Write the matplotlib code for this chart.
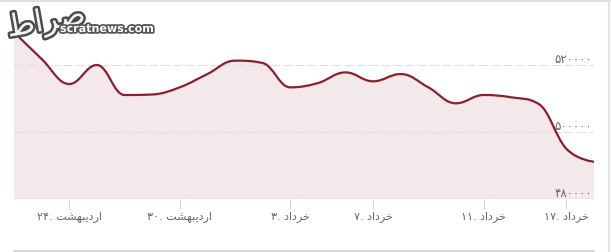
import matplotlib
matplotlib.use("Agg")
import matplotlib.pyplot as plt
from matplotlib.path import Path
from matplotlib.patches import PathPatch
import matplotlib.patheffects as pe
from matplotlib.lines import Line2D

# data: one point per trading day
values = [529850, 521800, 514330, 520000, 511045, 511200, 513340, 517300,
          521300, 520600, 513340, 514600, 517800, 515130, 517300, 513340,
          508570, 511045, 510360, 508360, 495000, 491130]
tick_idx = [2, 6, 10, 13, 17, 20]
tick_days = [24, 30, 3, 7, 11, 17]
tick_month = ['ord', 'ord', 'kh', 'kh', 'kh', 'kh']
y_ticks = [480000, 500000, 520000]

fa = str.maketrans('0123456789', '\u06f0\u06f1\u06f2\u06f3\u06f4\u06f5\u06f6\u06f7\u06f8\u06f9')
# month names, already shaped and in visual (left to right) order
months = {
    'ord': '\ufe96\ufeb8\ufeec\ufe92\ufef3\ufea9\ufead\ufe8d',  # اردیبهشت
    'kh': '\ufea9\ufe8d\ufea9\ufeae\ufea7',                      # خرداد
}
labels = [str(d).translate(fa) + '. ' + months[m] for d, m in zip(tick_days, tick_month)]

W, H = 611, 252
fig = plt.figure(figsize=(W / 100, H / 100), dpi=100)
ax = fig.add_axes([14 / W, (H - 199) / H, 580 / W, 189 / H])
ax.set_xlim(0, len(values) - 1)
ax.set_ylim(480000, 536420)
for s in ax.spines.values():
    s.set_visible(False)


# highcharts-like spline control points
def spline_path(ys):
    n = len(ys)
    sm, den = 1.5, 2.5
    lc = [None] * n
    rc = [None] * n
    for i in range(1, n - 1):
        x, y = i, ys[i]
        lx, ly = (sm * x + i - 1) / den, (sm * y + ys[i - 1]) / den
        rx, ry = (sm * x + i + 1) / den, (sm * y + ys[i + 1]) / den
        corr = (ry - ly) * (rx - x) / (rx - lx) + y - ry
        ly += corr
        ry += corr
        if ly > max(ys[i - 1], y):
            ly = max(ys[i - 1], y); ry = 2 * y - ly
        elif ly < min(ys[i - 1], y):
            ly = min(ys[i - 1], y); ry = 2 * y - ly
        if ry > max(ys[i + 1], y):
            ry = max(ys[i + 1], y); ly = 2 * y - ry
        elif ry < min(ys[i + 1], y):
            ry = min(ys[i + 1], y); ly = 2 * y - ry
        lc[i] = (lx, ly)
        rc[i] = (rx, ry)
    verts = [(0, ys[0])]
    codes = [Path.MOVETO]
    for i in range(1, n):
        c1 = rc[i - 1] if rc[i - 1] else (i - 1, ys[i - 1])
        c2 = lc[i] if lc[i] else (i, ys[i])
        verts += [c1, c2, (i, ys[i])]
        codes += [Path.CURVE4] * 3
    return verts, codes


verts, codes = spline_path(values)
fill_verts = verts + [(len(values) - 1, 480000), (0, 480000), (0, values[0])]
fill_codes = codes + [Path.LINETO, Path.LINETO, Path.CLOSEPOLY]
ax.add_patch(PathPatch(Path(fill_verts, fill_codes), facecolor='#f3e8ea', edgecolor='none', zorder=1))

# grid
for v in y_ticks[1:]:
    ax.axhline(v, color='#e0e0e0', lw=0.8, ls=(0, (8, 3)), zorder=2)
ax.add_patch(PathPatch(Path(verts, codes), facecolor='none', edgecolor='#8b1f2f', lw=1.6,
                       capstyle='round', joinstyle='round', zorder=3))
ax.axhline(480000, color='#ccd6eb', lw=1, zorder=4)

for v in y_ticks:
    ax.text(0.997, v - 300, str(v).translate(fa), transform=ax.get_yaxis_transform(),
            ha='right', va='bottom', fontsize=8.5, color='#666666', family='DejaVu Sans', zorder=5)

ax.set_yticks([])
ax.set_xticks(tick_idx)
ax.set_xticklabels(labels, fontsize=8, color='#666666', family='DejaVu Sans')
ax.tick_params(axis='x', length=7, width=0.8, color='#ccd6eb', pad=2)

# frame lines
fig.add_artist(Line2D([0, 1], [1 - 1 / H, 1 - 1 / H], color='#d8d8d8', lw=1.2))
fig.add_artist(Line2D([14 / W, 594 / W], [1 / H, 1 / H], color='#d0d0d0', lw=1.2))
fig.add_artist(Line2D([609 / W, 609 / W], [0, 1], color='#e4e4e4', lw=1.5))

# watermark
wm = '\ufec1\ufe8d\ufeae\ufebb'  # صراط
fig.text(46 / W, 1 - 22 / H, wm, fontsize=22, color='#f2f2f2', rotation=10,
         ha='center', va='center', family='DejaVu Sans',
         path_effects=[pe.withStroke(linewidth=3.5, foreground='#4a4a4a')])
fig.text(60 / W, 1 - 29 / H, 'scratnews.com', fontsize=8, color='white', ha='left', va='center',
         family='DejaVu Sans', fontweight='bold',
         path_effects=[pe.withStroke(linewidth=2.5, foreground='#555555')])

fig.savefig('out.png', dpi=100)
